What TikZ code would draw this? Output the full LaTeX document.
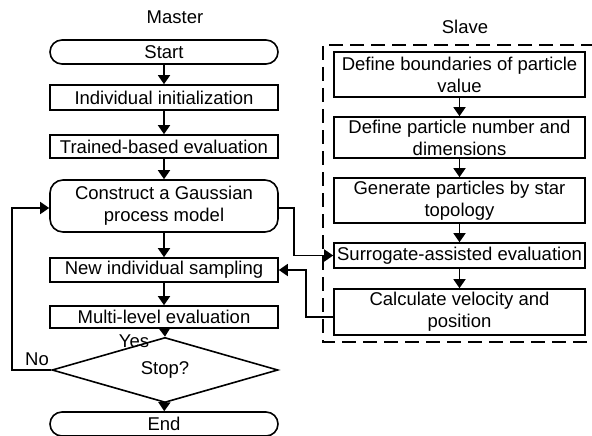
\documentclass[tikz,border=0pt]{standalone}
\usepackage{fontspec}
\setmainfont{Liberation Sans}
\usetikzlibrary{arrows.meta,shapes.geometric}
\begin{document}
\begin{tikzpicture}[x=1pt,y=-1pt,
  every node/.style={font=\fontsize{18.5}{22}\selectfont, inner sep=0pt, align=center},
  lw/.style={line width=1.6pt},
  mbox/.style={draw, lw, minimum width=228pt},
  sbox/.style={draw, lw, minimum width=251pt},
  term/.style={draw, lw, minimum width=228pt, minimum height=24pt, rounded corners=12pt},
  arr/.style={lw, -{Triangle[length=9pt,width=12pt]}},
  lbl/.style={font=\fontsize{18.5}{22}\selectfont}
]
\useasboundingbox (0,0) rectangle (592,436);
% titles
\node[lbl] (tmaster) at (175,17) {Master};
\node[lbl] (tslave) at (465,27) {Slave};
% master column
\node[term] (start) at (164,52) {Start};
\node[mbox, minimum height=25pt] (init) at (164,97.5) {Individual initialization};
\node[mbox, minimum height=23pt] (train) at (164,146.5) {Trained-based evaluation};
\node[mbox, minimum height=52pt, rounded corners=13pt] (gp) at (164,206) {Construct a Gaussian\\process model};
\node[mbox, minimum height=24pt] (new) at (164,270) {New individual sampling};
\node[mbox, minimum height=22pt] (multi) at (164,317) {Multi-level evaluation};
\node[draw, lw, shape=diamond, minimum width=226pt, minimum height=34pt] (stop) at (165,370) {Stop?};
\node[term] (end) at (164,424) {End};
% labels
\node[lbl] (yes) at (134,341) {Yes};
\node[lbl] (no) at (37,359) {No};
% slave column
\draw[lw, dash pattern=on 14pt off 7pt] (595,45) -- (323,45) -- (323,342) -- (595,342);
\node[sbox, minimum height=45pt] (s1) at (459.5,74.5) {Define boundaries of particle\\value};
\node[sbox, minimum height=41pt] (s2) at (459.5,137.5) {Define particle number and\\dimensions};
\node[sbox, minimum height=45pt] (s3) at (459.5,200.5) {Generate particles by star\\topology};
\node[sbox, minimum height=25pt] (s4) at (459.5,255.5) {Surrogate-assisted evaluation};
\node[sbox, minimum height=46pt] (s5) at (459.5,312) {Calculate velocity and\\position};
% master arrows
\draw[arr] (start) -- (init);
\draw[arr] (init) -- (train);
\draw[arr] (train) -- (gp);
\draw[arr] (gp) -- (new);
\draw[arr] (new) -- (multi);
\draw[arr] (multi) -- (stop.north);
\draw[arr] (stop) -- (end);
\draw[arr] (stop.west) -- ++(-39,0) |- ([yshift=-2pt]gp.west);
% slave arrows
\draw[arr] (s1) -- (s2);
\draw[arr] (s2) -- (s3);
\draw[arr] (s3) -- (s4);
\draw[arr] (s4) -- (s5);
% cross arrows
\draw[arr] ([yshift=-2pt]gp.east) -- ++(15,0) |- (s4.west);
\draw[arr] ([yshift=-5pt]s5.west) -- ++(-27,0) |- (new.east);
\end{tikzpicture}
\end{document}
